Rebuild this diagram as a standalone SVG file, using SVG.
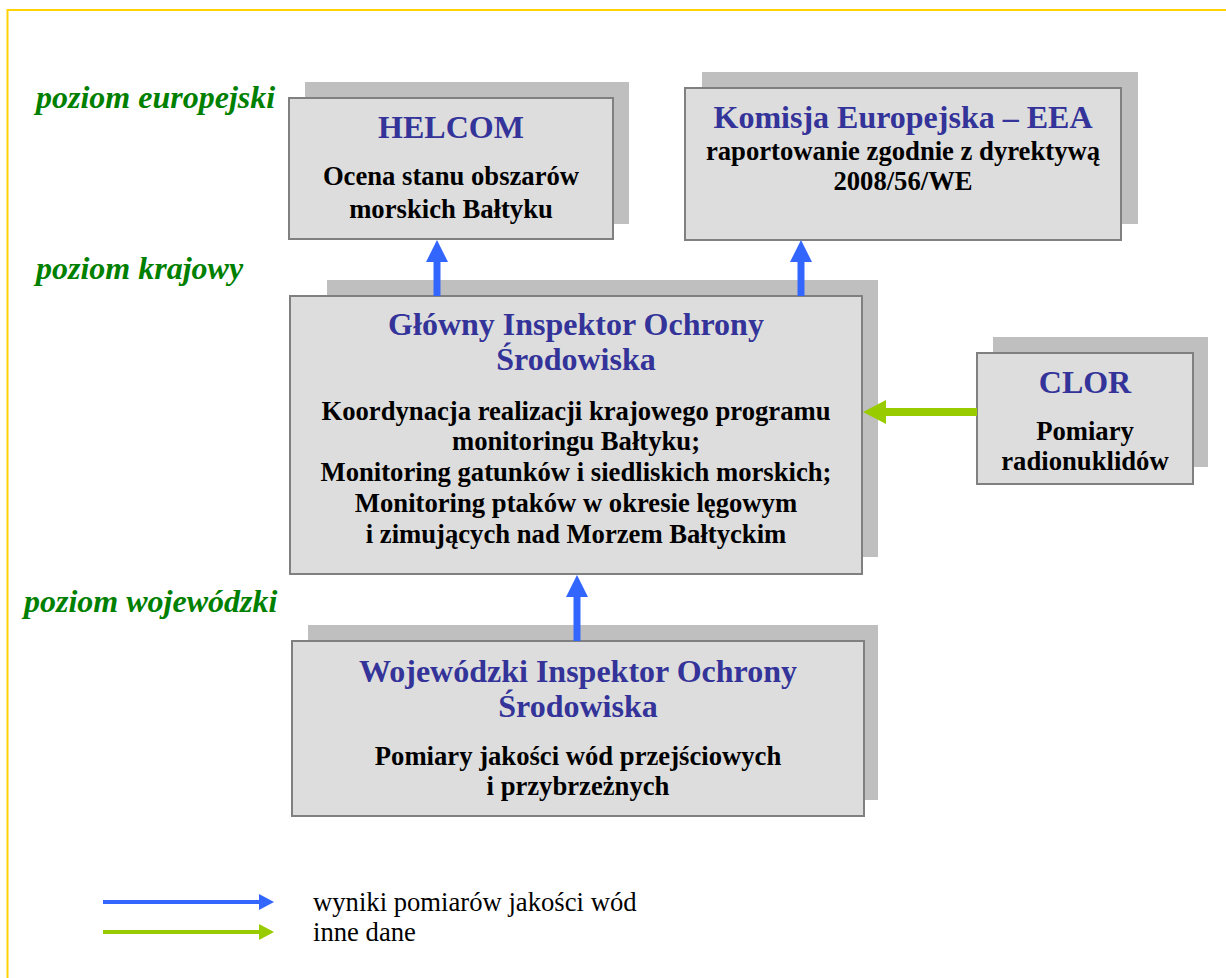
<svg xmlns="http://www.w3.org/2000/svg" width="1226" height="978" viewBox="0 0 1226 978">
<style>
.shadow{fill:#BFBFBF}
.box{fill:#DDDDDD;stroke:#808080;stroke-width:2}
.title{font-family:"Liberation Serif","Times New Roman",serif;font-weight:bold;font-size:32px;fill:#333399;text-anchor:middle}
.body{font-family:"Liberation Serif","Times New Roman",serif;font-weight:bold;font-size:26.67px;fill:#000;text-anchor:middle}
.level{font-family:"Liberation Serif","Times New Roman",serif;font-weight:bold;font-style:italic;font-size:32px;fill:#008000}
.legend{font-family:"Liberation Serif","Times New Roman",serif;font-size:26.67px;fill:#000}
.blue{stroke:#3366FF;fill:none}
.green{stroke:#99CC00;fill:none}
</style>
<defs>
<marker id="hb" markerUnits="userSpaceOnUse" viewBox="0 0 22 22" markerWidth="22" markerHeight="22" refX="0" refY="11" orient="auto"><path d="M0,0 L22,11 L0,22 z" fill="#3366FF"/></marker>
<marker id="hg" markerUnits="userSpaceOnUse" viewBox="0 0 23 24" markerWidth="23" markerHeight="24" refX="0" refY="12" orient="auto"><path d="M0,0 L23,12 L0,24 z" fill="#99CC00"/></marker>
<marker id="lb" markerUnits="userSpaceOnUse" viewBox="0 0 15 16" markerWidth="15" markerHeight="16" refX="0" refY="8" orient="auto"><path d="M0,0 L15,8 L0,16 z" fill="#3366FF"/></marker>
<marker id="lg" markerUnits="userSpaceOnUse" viewBox="0 0 15 16" markerWidth="15" markerHeight="16" refX="0" refY="8" orient="auto"><path d="M0,0 L15,8 L0,16 z" fill="#99CC00"/></marker>
</defs>
<rect width="1226" height="978" fill="#FFFFFF"/>
<path d="M7.5,978 V10 H1226" fill="none" stroke="#FFD200" stroke-width="2"/>

<g id="labels">
<text class="level" x="36" y="108">poziom europejski</text>
<text class="level" x="36" y="279">poziom krajowy</text>
<text class="level" x="24" y="612">poziom wojewódzki</text>
</g>

<g id="helcom">
<rect class="shadow" x="305" y="82" width="324" height="142"/>
<rect class="box" x="289" y="98" width="324" height="141"/>
<text class="title" x="451" y="138">HELCOM</text>
<text class="body" x="451" y="185">Ocena stanu obszarów</text>
<text class="body" x="451" y="218">morskich Bałtyku</text>
</g>

<g id="komisja">
<rect class="shadow" x="702" y="72" width="436" height="152"/>
<rect class="box" x="685" y="88" width="436" height="152"/>
<text class="title" x="903" y="128">Komisja Europejska – EEA</text>
<text class="body" x="903" y="160">raportowanie zgodnie z dyrektywą</text>
<text class="body" x="903" y="190">2008/56/WE</text>
</g>

<g id="gios">
<rect class="shadow" x="327" y="280" width="551" height="277"/>
<rect class="box" x="290" y="296" width="572" height="278"/>
<text class="title" x="576" y="335">Główny Inspektor Ochrony</text>
<text class="title" x="576" y="370">Środowiska</text>
<text class="body" x="576" y="420">Koordynacja realizacji krajowego programu</text>
<text class="body" x="576" y="450">monitoringu Bałtyku;</text>
<text class="body" x="576" y="481">Monitoring gatunków i siedliskich morskich;</text>
<text class="body" x="576" y="512">Monitoring ptaków w okresie lęgowym</text>
<text class="body" x="576" y="543">i zimujących nad Morzem Bałtyckim</text>
</g>

<g id="clor">
<rect class="shadow" x="993" y="337" width="215" height="130"/>
<rect class="box" x="977" y="353" width="216" height="131"/>
<text class="title" x="1085" y="393">CLOR</text>
<text class="body" x="1085" y="440">Pomiary</text>
<text class="body" x="1085" y="470">radionuklidów</text>
</g>

<g id="wios">
<rect class="shadow" x="308" y="625" width="570" height="175"/>
<rect class="box" x="292" y="641" width="572" height="175"/>
<text class="title" x="578" y="682">Wojewódzki Inspektor Ochrony</text>
<text class="title" x="578" y="717">Środowiska</text>
<text class="body" x="578" y="765">Pomiary jakości wód przejściowych</text>
<text class="body" x="578" y="795">i przybrzeżnych</text>
</g>

<g id="connectors">
<line class="blue" x1="437" y1="296" x2="437" y2="262" stroke-width="7" marker-end="url(#hb)"/>
<line class="blue" x1="801" y1="296" x2="801" y2="262" stroke-width="7" marker-end="url(#hb)"/>
<line class="blue" x1="577" y1="641" x2="577" y2="597" stroke-width="7" marker-end="url(#hb)"/>
<line class="green" x1="977" y1="412" x2="886" y2="412" stroke-width="8" marker-end="url(#hg)"/>
</g>

<g id="legend">
<line class="blue" x1="103" y1="902" x2="259" y2="902" stroke-width="4" marker-end="url(#lb)"/>
<line class="green" x1="103" y1="932" x2="259" y2="932" stroke-width="4" marker-end="url(#lg)"/>
<text class="legend" x="313" y="911">wyniki pomiarów jakości wód</text>
<text class="legend" x="313" y="941">inne dane</text>
</g>
</svg>
